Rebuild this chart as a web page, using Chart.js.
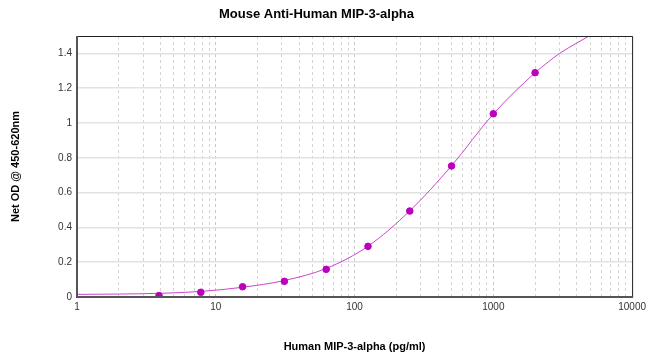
<!DOCTYPE html>
<html>
<head>
<meta charset="utf-8">
<script src="https://cdn.jsdelivr.net/npm/chart.js@4/dist/chart.umd.min.js"></script>
<style>
html,body{margin:0;padding:0;background:#fff;}
#wrap{width:650px;height:362px;position:relative;}
</style>
</head>
<body>
<div id="wrap"><canvas id="c" width="650" height="362"></canvas></div>
<script>
// Standard concentrations (pg/ml) and measured net OD
const concentrations = [3.9, 7.8, 15.6, 31.25, 62.5, 125, 250, 500, 1000, 2000];
const netOD = [0.008, 0.027, 0.059, 0.090, 0.159, 0.291, 0.494, 0.753, 1.053, 1.289];
// Fitted curve
const curveX = [1, 2, 3.9, 7.8, 15.6, 31.25, 62.5, 125, 250, 500, 1000, 2000, 2500, 3000, 4000, 4900];
const curveY = [0.015, 0.017, 0.021, 0.032, 0.056, 0.095, 0.164, 0.292, 0.495, 0.754, 1.052, 1.289, 1.352, 1.400, 1.460, 1.5];
// Axis ticks
const xMajorTicks = [1, 10, 100, 1000, 10000];
const xMinorTicks = [2,3,4,5,6,7,8,9,20,30,40,50,60,70,80,90,200,300,400,500,600,700,800,900,2000,3000,4000,5000,6000,7000,8000,9000];
const yTicks = [0, 0.2, 0.4, 0.6, 0.8, 1, 1.2, 1.4];

const FONT = "'Liberation Sans', Arial, sans-serif";

const frame = {
  id: 'frame',
  afterDatasetsDraw(chart) {
    const {ctx, chartArea: a} = chart;
    ctx.save();
    ctx.strokeStyle = '#222';
    ctx.lineWidth = 1;
    ctx.beginPath();
    ctx.moveTo(a.left, a.top + 0.5);
    ctx.lineTo(a.right + 0.5, a.top + 0.5);
    ctx.lineTo(a.right + 0.5, a.bottom);
    ctx.stroke();
    ctx.strokeStyle = '#555';
    ctx.lineWidth = 2;
    ctx.beginPath();
    ctx.moveTo(a.left, a.top);
    ctx.lineTo(a.left, a.bottom);
    ctx.lineTo(a.right + 1, a.bottom);
    ctx.stroke();
    ctx.restore();
  }
};

new Chart(document.getElementById('c'), {
  type: 'scatter',
  data: {
    datasets: [
      {
        label: 'fit',
        data: curveX.map((x, i) => ({x, y: curveY[i]})),
        showLine: true,
        borderColor: '#cc44cc',
        borderWidth: 1,
        pointRadius: 0,
        cubicInterpolationMode: 'monotone',
        order: 2
      },
      {
        label: 'standards',
        data: concentrations.map((x, i) => ({x, y: netOD[i]})),
        showLine: false,
        backgroundColor: '#bb00bb',
        borderColor: '#bb00bb',
        pointRadius: 3.3,
        pointStyle: 'circle',
        order: 1
      }
    ]
  },
  options: {
    responsive: false,
    animation: false,
    devicePixelRatio: 1,
    layout: {padding: {left: 0, right: 17, top: 0, bottom: 0}},
    plugins: {
      legend: {display: false},
      tooltip: {enabled: false},
      title: {
        display: true,
        text: 'Mouse Anti-Human MIP-3-alpha',
        color: '#000',
        font: {family: FONT, size: 13, weight: 'bold', lineHeight: 1.2},
        padding: {top: 7, bottom: 13.4}
      }
    },
    scales: {
      x: {
        type: 'logarithmic',
        min: 1,
        max: 10000,
        afterBuildTicks(scale) {
          scale.ticks = xMajorTicks.concat(xMinorTicks).sort((a, b) => a - b).map(v => ({value: v}));
        },
        afterFit(scale) { scale.height = 65; },
        ticks: {
          autoSkip: false,
          maxRotation: 0,
          padding: 4,
          color: '#333',
          font: {family: FONT, size: 10},
          callback: (v) => xMajorTicks.includes(v) ? String(v) : ''
        },
        grid: {
          drawTicks: false,
          color: (c) => xMajorTicks.includes(c.tick && c.tick.value) ? '#c8c8c8' : '#d4d4d4',
          lineWidth: 1
        },
        border: {display: false, dash: [3, 3]},
        title: {
          display: true,
          text: 'Human MIP-3-alpha (pg/ml)',
          color: '#000',
          font: {family: FONT, size: 11, weight: 'bold', lineHeight: 1.2},
          padding: {top: 0, bottom: 8}
        }
      },
      y: {
        type: 'linear',
        min: 0,
        max: 1.5,
        afterBuildTicks(scale) {
          scale.ticks = yTicks.map(v => ({value: v}));
        },
        afterFit(scale) { scale.width = 77; },
        ticks: {
          padding: 5,
          color: '#333',
          font: {family: FONT, size: 10},
          callback: (v) => String(Math.round(v * 10) / 10)
        },
        grid: {
          drawTicks: false,
          color: '#e2e2e2',
          lineWidth: 1.5
        },
        border: {display: false},
        title: {
          display: true,
          text: 'Net OD @ 450-620nm',
          color: '#000',
          font: {family: FONT, size: 11, weight: 'bold', lineHeight: 1.2},
          padding: {top: 9, bottom: 0}
        }
      }
    }
  },
  plugins: [frame]
});
</script>
</body>
</html>
